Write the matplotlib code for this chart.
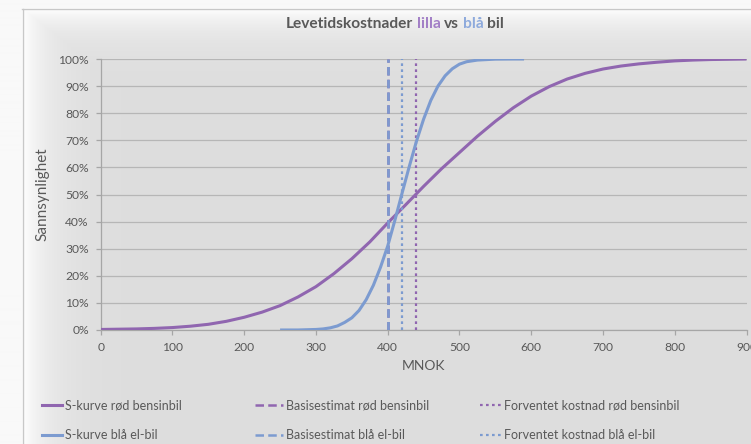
import numpy as np
import matplotlib
matplotlib.use("Agg")
import matplotlib.pyplot as plt
from matplotlib.lines import Line2D

plt.rcParams['font.family'] = ['Lato', 'DejaVu Sans']

# ---------------- data ----------------
x_roed = [0, 25, 50, 75, 100, 125, 150, 175, 200, 225, 250, 275, 300, 325, 350,
          375, 400, 425, 450, 475, 500, 525, 550, 575, 600, 625, 650, 675, 700,
          725, 750, 775, 800, 825, 850, 875, 900]
p_roed = [0.2, 0.3, 0.4, 0.6, 0.9, 1.4, 2.1, 3.2, 4.7, 6.6, 9.0, 12.2, 16.0, 20.8,
          26.3, 32.5, 39.5, 46.2, 53.0, 59.5, 65.5, 71.5, 77.0, 82.0, 86.3, 89.8,
          92.6, 94.7, 96.3, 97.4, 98.2, 98.8, 99.3, 99.6, 99.8, 99.9, 100.0]

x_blaa = [250, 275, 300, 310, 320, 330, 340, 350, 360, 370, 380, 390, 400, 410,
          420, 430, 440, 450, 460, 470, 480, 490, 500, 510, 525, 550, 575, 590]
p_blaa = [0.0, 0.01, 0.2, 0.4, 0.8, 1.5, 2.8, 4.5, 7.2, 11.2, 16.5, 23.2, 31.0,
          40.5, 50.5, 60.3, 69.6, 77.8, 84.7, 90.0, 93.8, 96.4, 98.1, 99.0, 99.6,
          99.95, 100.0, 100.0]

basis_roed = 400
forventet_roed = 440
basis_blaa = 400
forventet_blaa = 420

x_ticks = [0, 100, 200, 300, 400, 500, 600, 700, 800, 900]
y_ticks = [0, 10, 20, 30, 40, 50, 60, 70, 80, 90, 100]
y_ticklabels = [f"{v}%" for v in y_ticks]

labels = ["S-kurve rød bensinbil", "Basisestimat rød bensinbil",
          "Forventet kostnad rød bensinbil", "S-kurve blå el-bil",
          "Basisestimat blå el-bil", "Forventet kostnad blå el-bil"]

# ---------------- style ----------------
W, H = 751, 444
PURPLE = "#9066b0"
BLUE = "#7c9bd0"
TXT = "#595959"
GRID = "#b6b6b6"

fig = plt.figure(figsize=(W / 100, H / 100), dpi=100)
fig.patch.set_facecolor("white")

# background gradient of the chart area
bg = fig.add_axes([0, 0, 1, 1], zorder=-10)
yy, xx = np.mgrid[0:H, 0:W].astype(float)
inside = (xx >= 22) & (yy >= 9)
light = np.maximum(np.exp(-(xx - 22) / 28.0), np.exp(-(yy - 9) / 22.0))
val = 221 + 34 * np.clip(light, 0, 1)
val = np.where(inside, val, 249)
img = np.dstack([val, val, val]) / 255.0
bg.imshow(img, aspect="auto", extent=[0, W, H, 0], interpolation="bilinear")
bg.plot([22, W], [9.5, 9.5], color="#c8c8c8", lw=1.0)
bg.plot([22.5, 22.5], [9, H], color="#c8c8c8", lw=1.0)
bg.set_xlim(0, W)
bg.set_ylim(H, 0)
bg.axis("off")

# plot area
left, right, top, bottom = 100.7, 746.5, 59, 330
ax = fig.add_axes([left / W, 1 - bottom / H, (right - left) / W, (bottom - top) / H])
ax.set_facecolor("none")

ax.plot(x_roed, p_roed, color=PURPLE, lw=2.2, solid_capstyle="butt", zorder=3)
ax.plot([basis_roed, basis_roed], [0, 100], color=PURPLE, lw=1.8,
        dashes=(3.4, 1.7), zorder=3)
ax.plot([forventet_roed, forventet_roed], [0, 100], color=PURPLE, lw=1.6,
        dashes=(1.2, 1.5), zorder=3)
ax.plot(x_blaa, p_blaa, color=BLUE, lw=2.2, solid_capstyle="butt", zorder=4)
ax.plot([basis_blaa, basis_blaa], [0, 100], color=BLUE, lw=1.8,
        dashes=(3.4, 1.7), zorder=4)
ax.plot([forventet_blaa, forventet_blaa], [0, 100], color=BLUE, lw=1.6,
        dashes=(1.2, 1.5), zorder=4)

ax.set_xlim(0, 900)
ax.set_ylim(0, 100)
ax.set_xticks(x_ticks)
ax.set_yticks(y_ticks)
ax.set_yticklabels(y_ticklabels)
ax.yaxis.grid(True, color=GRID, lw=0.9)
ax.set_axisbelow(True)
for s in ["top", "right"]:
    ax.spines[s].set_visible(False)
for s in ["left", "bottom"]:
    ax.spines[s].set_color("#a6a6a6")
    ax.spines[s].set_linewidth(0.9)
ax.tick_params(axis="both", colors="#a6a6a6", labelcolor=TXT, labelsize=8.7,
               length=3.5, width=0.9, pad=5)
ax.set_xlabel("MNOK", fontsize=10, color=TXT, labelpad=5)
ax.set_ylabel("Sannsynlighet", fontsize=11, color=TXT, labelpad=6)

# title with coloured words
fig.canvas.draw()
r = fig.canvas.get_renderer()
tfs = 11.2
words = [("Levetidskostnader", TXT), ("lilla", "#a27fc6"), ("vs", TXT),
         ("blå", "#8eaadc"), ("bil", TXT)]
tmp = []
for w_, c in words:
    t = fig.text(0, 0, w_, fontsize=tfs, fontweight="bold", color=c)
    tmp.append(t)
sp1 = fig.text(0, 0, "x x", fontsize=tfs, fontweight="bold")
sp2 = fig.text(0, 0, "xx", fontsize=tfs, fontweight="bold")
space = sp1.get_window_extent(r).width - sp2.get_window_extent(r).width
widths = [t.get_window_extent(r).width for t in tmp]
sp1.remove(); sp2.remove()
total = sum(widths) + space * (len(words) - 1)
xpos = 395 - total / 2
for t, wdt in zip(tmp, widths):
    t.set_position((xpos / W, 1 - 24 / H))
    t.set_va("center")
    xpos += wdt + space

# legends (three columns, two rows)
def mk(color, style):
    if style == "solid":
        return Line2D([], [], color=color, lw=2.2)
    if style == "dash":
        return Line2D([], [], color=color, lw=1.8, dashes=(3.4, 1.7))
    return Line2D([], [], color=color, lw=1.6, dashes=(1.2, 1.5))

cols = [
    (42, [mk(PURPLE, "solid"), mk(BLUE, "solid")], [labels[0], labels[3]], 1.6),
    (255, [mk(PURPLE, "dash"), mk(BLUE, "dash")], [labels[1], labels[4]], 2.2),
    (480, [mk(PURPLE, "dot"), mk(BLUE, "dot")], [labels[2], labels[5]], 1.7),
]
for xpx, hs, ls, hl in cols:
    leg = fig.legend(hs, ls, loc="upper left",
                     bbox_to_anchor=(xpx / W, 1 - 399 / H),
                     frameon=False, fontsize=9, labelcolor=TXT,
                     handlelength=hl, handletextpad=0.25, borderpad=0,
                     borderaxespad=0, labelspacing=1.45)

fig.savefig("out.png", dpi=100)
